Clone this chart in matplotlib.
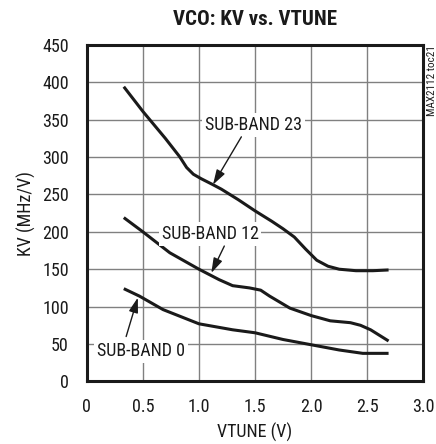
import matplotlib
matplotlib.use("Agg")
import matplotlib.pyplot as plt

plt.rcParams['font.family'] = ['Roboto Condensed', 'Liberation Sans', 'DejaVu Sans']

# curves
sb23_x = [0.33, 0.5, 0.6, 0.7, 0.83, 0.89, 0.95, 1.02, 1.125, 1.2, 1.35, 1.5, 1.65, 1.75, 1.85, 1.95, 2.05, 2.15, 2.25, 2.4, 2.55, 2.69]
sb23_y = [394, 361, 343, 325, 300, 286, 277, 271, 263, 257, 243, 228, 214, 204, 193, 177, 162, 154, 150, 148, 148, 149]

sb12_x = [0.33, 0.5, 0.74, 1.0, 1.18, 1.3, 1.45, 1.55, 1.63, 1.81, 2.0, 2.17, 2.35, 2.44, 2.53, 2.69]
sb12_y = [219, 200, 172, 150, 136, 128, 125, 122, 114, 98, 88, 81, 78.5, 75, 69, 54]

sb0_x = [0.33, 0.47, 0.68, 1.0, 1.3, 1.5, 1.75, 2.0, 2.25, 2.46, 2.69]
sb0_y = [124, 114, 96, 77, 69, 65, 56, 49, 42, 37.5, 37.5]

x_ticks = [0, 0.5, 1.0, 1.5, 2.0, 2.5, 3.0]
x_labels = ['0', '0.5', '1.0', '1.5', '2.0', '2.5', '3.0']
y_ticks = [0, 50, 100, 150, 200, 250, 300, 350, 400, 450]

# (label, text position, arrow start, arrow tip)
notes = [('SUB-BAND 23', (1.485, 343), (1.378, 327), (1.125, 263)),
         ('SUB-BAND 12', (1.10, 197), (1.226, 181), (1.11, 145)),
         ('SUB-BAND 0', (0.485, 40), (0.351, 60), (0.455, 112))]

fig = plt.figure(figsize=(4.36, 4.44), dpi=100)
ax = fig.add_axes([0.199, 0.141, 0.772, 0.758])

for xs, ys in [(sb23_x, sb23_y), (sb12_x, sb12_y), (sb0_x, sb0_y)]:
    ax.plot(xs, ys, '-', color='#1a1a1a', lw=2.2, solid_capstyle='butt', zorder=3)

ax.set_xlim(0, 3.0)
ax.set_ylim(0, 450)
ax.set_xticks(x_ticks)
ax.set_xticklabels(x_labels)
ax.set_yticks(y_ticks)
ax.grid(True, color='#808080', lw=1.0, zorder=1)
ax.set_axisbelow(True)
ax.tick_params(length=0, labelsize=13, pad=13, colors='#1a1a1a')
ax.tick_params(axis='x', pad=12)
for s in ax.spines.values():
    s.set_linewidth(2.2)
    s.set_color('#1a1a1a')

for label, txt, start, tip in notes:
    ax.text(txt[0], txt[1], label, fontsize=13, ha='center', va='center',
            color='#1a1a1a', zorder=4,
            bbox=dict(boxstyle='square,pad=0.15', fc='white', ec='none'))
    ax.annotate('', xy=tip, xytext=start, zorder=5,
                arrowprops=dict(arrowstyle='-|>,head_length=0.9,head_width=0.28',
                                color='#1a1a1a', lw=1.0, shrinkA=0, shrinkB=0))

ax.set_xlabel('VTUNE (V)', fontsize=13, color='#1a1a1a', labelpad=5)
ax.set_ylabel('KV (MHz/V)', fontsize=13, color='#1a1a1a', labelpad=4)
fig.text(0.585, 0.957, 'VCO: KV vs. VTUNE', fontsize=15, fontweight='bold',
         ha='center', va='center', color='#1a1a1a')
fig.text(0.99, 0.899, 'MAX2112 toc21', fontsize=8, rotation=90, ha='center', va='top',
         color='#1a1a1a')

fig.savefig('out.png', dpi=100)
